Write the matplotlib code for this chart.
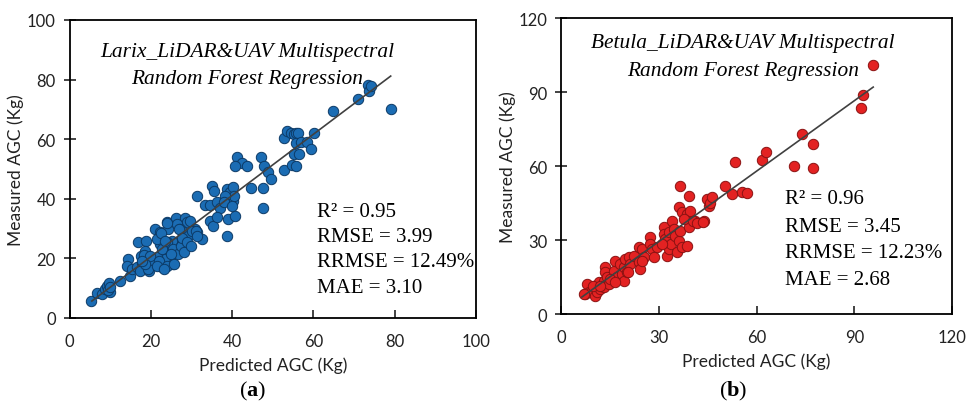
import numpy as np
import matplotlib
matplotlib.use("Agg")
import matplotlib.pyplot as plt

plt.rcParams['font.family'] = ['Lato', 'DejaVu Sans']
plt.rcParams['mathtext.fontset'] = 'custom'
plt.rcParams['mathtext.rm'] = 'Liberation Serif'
plt.rcParams['mathtext.bf'] = 'Liberation Serif:bold'

# Larix: predicted vs measured AGC (Kg)
larix_pred = [5.2, 6.7, 8.0, 8.7, 9.3, 9.8, 9.9, 9.5, 10.0, 12.4, 14.5, 14.1, 14.9, 15.3, 16.7,
              16.9, 18.8, 17.5, 17.8, 17.3, 18.6, 19.4, 19.8, 19.5, 18.2,
              21.0, 22.3, 23.9, 24.3, 26.2, 28.4, 28.8, 26.4, 27.2, 28.0, 29.2, 28.4, 27.6, 26.8,
              26.0, 25.1, 23.9, 22.3, 21.6, 23.1, 24.3, 25.5, 26.8, 24.7, 23.5, 21.4, 20.6, 19.8,
              22.7, 21.9, 25.5, 19.4, 18.6, 17.8, 21.4, 23.9, 30.9, 31.3, 32.5, 30.1, 29.6,
              22.4, 22.8, 23.2, 23.6, 24.0, 24.9, 25.7, 26.9, 27.3, 27.7, 28.2, 29.0, 29.8, 31.0, 31.4,
              31.3, 33.3, 34.6, 36.2, 36.9, 35.0, 35.5, 38.7, 39.5, 40.3, 40.1, 40.5, 38.3, 37.9,
              39.1, 40.7, 39.9, 34.6, 35.2, 36.2, 38.8, 41.3, 42.4, 40.7, 43.7,
              44.6, 47.0, 47.5, 47.5, 47.9, 48.7, 49.5, 52.8, 52.8, 53.6, 54.4, 55.3, 55.7, 56.1,
              55.3, 54.8, 55.7, 56.5, 55.7, 56.9, 58.5, 59.4, 60.2, 64.7, 70.9, 73.3, 73.7, 74.1, 79.1]
larix_meas = [5.6, 8.4, 8.0, 9.7, 10.8, 11.7, 8.6, 9.3, 10.5, 12.3, 19.8, 17.3, 14.2, 16.4, 17.2,
              25.6, 25.8, 20.9, 18.3, 15.8, 22.6, 19.2, 17.5, 15.9, 21.0,
              29.9, 28.8, 32.1, 29.9, 33.5, 33.4, 32.1, 31.5, 29.9, 28.8, 27.6, 25.4, 26.5, 24.8,
              23.7, 25.9, 25.4, 24.8, 26.5, 22.6, 21.5, 23.1, 21.5, 19.8, 19.8, 20.4, 18.7, 20.9,
              17.0, 19.2, 18.1, 16.4, 18.1, 19.2, 17.6, 17.6, 29.9, 28.8, 26.5, 29.3, 32.6,
              28.6, 23.1, 16.4, 25.9, 32.0, 21.5, 18.1, 29.8, 24.2, 27.0, 22.0, 25.4, 24.2, 29.3, 27.6,
              41.1, 37.8, 37.8, 38.8, 36.8, 44.2, 42.7, 43.3, 42.2, 43.8, 39.4, 41.1, 41.1, 38.8,
              33.2, 34.1, 37.5, 32.6, 31.0, 33.8, 27.4, 53.9, 52.0, 50.9, 50.9,
              43.5, 53.9, 43.5, 36.8, 51.0, 49.0, 46.8, 60.3, 49.6, 62.8, 62.2, 61.7, 62.2, 62.2,
              55.0, 51.4, 51.0, 55.0, 58.7, 58.9, 58.9, 56.6, 62.2, 69.5, 73.6, 78.1, 76.2, 77.9, 70.0]

# Betula: predicted vs measured AGC (Kg)
betula_pred = [7.5, 8.0, 8.5, 9.5, 10.0, 10.5, 11.1, 11.6, 12.1, 13.1, 13.1, 13.6, 13.6, 14.1, 14.6,
               16.2, 16.7, 17.2, 18.2, 18.7, 19.2, 19.2, 19.7, 20.3, 20.8, 21.3, 22.3, 23.8, 23.8,
               24.3, 24.9, 25.4, 27.4, 27.4, 27.9, 28.4, 6.9, 9.9, 12.0, 15.1, 16.6, 20.7, 24.8,
               31.5, 31.5, 32.0, 32.5, 33.0, 33.0, 33.6, 34.1, 34.6, 35.1, 35.6, 36.1, 36.1, 36.6,
               37.1, 37.1, 38.7, 38.7, 39.2, 39.2, 39.7, 41.2, 43.8, 36.6, 29.4, 30.9, 37.6, 40.6,
               41.7, 43.5, 44.8, 45.3, 45.8, 46.3, 50.4, 52.5, 55.6, 57.0, 53.5, 61.6, 62.9, 71.6,
               74.1, 77.2, 77.2, 92.0, 92.7, 95.7]
betula_meas = [8.1, 12.2, 8.8, 9.4, 11.5, 7.4, 8.8, 12.8, 10.1, 13.5, 10.8, 18.9, 16.9, 14.9, 12.2,
               17.6, 21.6, 14.9, 20.3, 16.2, 18.9, 13.5, 22.3, 16.9, 23.0, 20.3, 23.7, 27.0, 20.9,
               18.2, 26.4, 23.0, 31.1, 28.4, 26.4, 23.0, 8.1, 11.5, 11.5, 14.2, 12.8, 16.9, 21.6,
               35.1, 32.4, 30.4, 23.6, 33.1, 26.4, 28.4, 37.8, 34.4, 31.7, 25.0, 43.2, 29.7, 33.8,
               41.2, 27.0, 40.5, 27.7, 47.9, 35.1, 41.9, 37.8, 37.8, 52.0, 27.0, 28.3, 38.4, 37.8,
               37.1, 37.3, 46.6, 43.9, 45.2, 47.3, 52.0, 48.6, 49.3, 49.2, 61.5, 62.4, 65.7, 60.0,
               72.8, 68.8, 59.3, 83.6, 89.0, 100.8]

# fitted lines: x range, intercept, slope
larix_fit = ([5.5, 79.0], 0.05, 1.027)
betula_fit = ([6.4, 95.8], 0.8, 0.952)

larix_stats = ["R\u00b2 = 0.95", "RMSE = 3.99", "RRMSE = 12.49%", "MAE = 3.10"]
betula_stats = ["R\u00b2 = 0.96", "RMSE = 3.45", "RRMSE = 12.23%", "MAE = 2.68"]

fig = plt.figure(figsize=(9.71, 4.06), dpi=100)
ax1 = fig.add_axes([0.0716, 0.2143, 0.4187, 0.734])
ax2 = fig.add_axes([0.5778, 0.2241, 0.4027, 0.729])

panels = [
    (ax1, larix_pred, larix_meas, larix_fit, larix_stats, "#1b6cb3", "#0c3a66",
     100, 20, "Larix_LiDAR&UAV Multispectral", (0.437, 0.893, 0.802), (0.609, [0.359, 0.275, 0.188, 0.101])),
    (ax2, betula_pred, betula_meas, betula_fit, betula_stats, "#e32222", "#8a1212",
     120, 30, "Betula_LiDAR&UAV Multispectral", (0.465, 0.919, 0.824), (0.573, [0.389, 0.297, 0.209, 0.118])),
]

for ax, px, py, fit, stats, fc, ec, lim, step, title, tpos, spos in panels:
    ax.scatter(px, py, s=56, c=fc, edgecolors=ec, linewidths=0.7, zorder=3)
    fx = np.array(fit[0])
    ax.plot(fx, fit[1] + fit[2] * fx, color="#404040", lw=1.2, zorder=4)
    ax.set_xlim(0, lim)
    ax.set_ylim(0, lim)
    ax.set_xticks(np.arange(0, lim + 1, step))
    ax.set_yticks(np.arange(0, lim + 1, step))
    ax.tick_params(axis='x', direction='in', length=6, width=1.2, labelsize=12, pad=11, colors='#222222')
    ax.tick_params(axis='y', direction='inout', length=8, width=1.2, labelsize=12, pad=6, colors='#222222')
    for sp in ax.spines.values():
        sp.set_linewidth(1.3)
        sp.set_color('black')
    ax.set_xlabel("Predicted AGC (Kg)", fontsize=12.5, labelpad=5, color='#222222')
    ax.set_ylabel("Measured AGC (Kg)", fontsize=12.5, labelpad=2, color='#222222')
    ax.text(tpos[0], tpos[1], title, transform=ax.transAxes, ha='center', va='center',
            family='Liberation Serif', style='italic', fontsize=15.4)
    ax.text(tpos[0], tpos[2], "Random Forest Regression", transform=ax.transAxes, ha='center', va='center',
            family='Liberation Serif', style='italic', fontsize=15.4)
    for s, yy in zip(stats, spos[1]):
        ax.text(spos[0], yy, s, transform=ax.transAxes, ha='left', va='center',
                family='Liberation Serif', fontsize=15)

fig.text(253 / 971, 1 - 391 / 406, r"$\mathrm{(}\mathbf{a}\mathrm{)}$", ha='center', va='center', fontsize=16)
fig.text(733 / 971, 1 - 391 / 406, r"$\mathrm{(}\mathbf{b}\mathrm{)}$", ha='center', va='center', fontsize=16)

fig.savefig("out.png", dpi=100)
